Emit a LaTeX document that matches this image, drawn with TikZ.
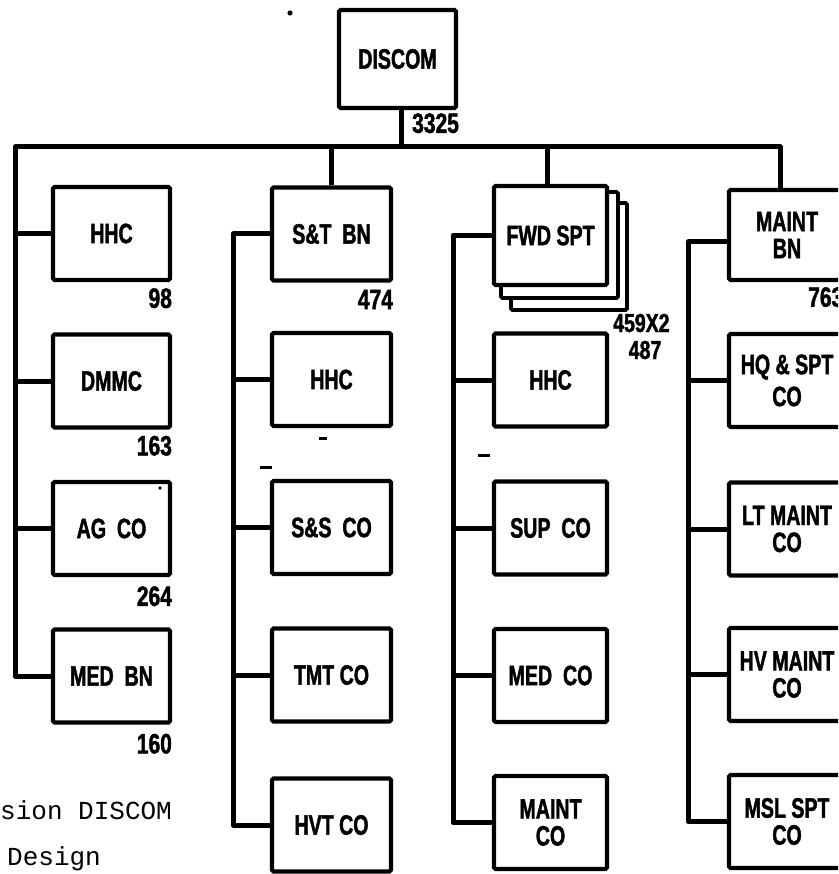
\documentclass[tikz,border=0pt]{standalone}
\usepackage{fontspec}
\newfontfamily\lab[FakeStretch=0.7,FakeBold=1.5]{Liberation Sans}
\newfontfamily\numf[FakeStretch=0.75,FakeBold=1.5]{Liberation Sans}
\newfontfamily\typew{Liberation Mono}
\tikzset{
  box/.style={draw, line width=4.2pt, rounded corners=1.5pt, fill=white, align=center,
    inner sep=0pt, minimum height=93pt,
    font=\lab\bfseries\fontsize{28}{27}\selectfont},
  colA/.style={box, minimum width=117pt},
  colB/.style={box, minimum width=119pt},
  colC/.style={box, minimum width=113pt},
  colD/.style={box, minimum width=116pt},
  wire/.style={line width=5pt, line join=round},
  num/.style={font=\numf\bfseries\fontsize{28}{28}\selectfont, inner sep=0pt, anchor=north east},
  smallnum/.style={font=\numf\bfseries\fontsize{26}{26}\selectfont, inner sep=0pt},
  shadowbox/.style={draw, line width=3.6pt, rounded corners=1.5pt, fill=white},
  speck/.style={fill=black}
}
\begin{document}
\begin{tikzpicture}[x=1pt, y=-1pt]
\useasboundingbox (0,0) rectangle (838,874);
\clip (0,0) rectangle (838,874);

% coordinates for the vertical rails
\coordinate (busL) at (15,147);
\coordinate (c2) at (233,0);
\coordinate (c3) at (453,0);
\coordinate (c4) at (688,0);

% top
\node[box, minimum width=117pt, minimum height=98pt] (discom) at (397.5,59) {DISCOM};

% column 1
\node[colA] (hhcA) at (111.5,233.5) {HHC};
\node[colA] (dmmc) at (111.5,381) {DMMC};
\node[colA] (agco) at (111.5,528.5) {AG\ \ CO};
\node[colA] (medbn) at (111.5,676) {MED\ \ BN};

% column 2
\node[colB] (stbn) at (331.5,234) {S\&T\ \ BN};
\node[colB] (hhcB) at (331.5,379.5) {HHC};
\node[colB] (ssco) at (331.5,527.5) {S\&S\ \ CO};
\node[colB] (tmtco) at (331.5,675) {TMT CO};
\node[colB] (hvtco) at (331.5,825) {HVT CO};

% column 3 (stacked FWD SPT)
\draw[shadowbox] (511,203) rectangle (627,310);
\draw[shadowbox] (501,192) rectangle (618,298);
\node[colC, minimum height=99pt] (fwd) at (550.5,235.5) {FWD SPT};
\node[colC] (hhcC) at (550.5,380) {HHC};
\node[colC] (supco) at (550.5,528) {SUP\ \ CO};
\node[colC] (medco) at (550.5,675.5) {MED\ \ CO};
\node[colC] (maintco) at (550.5,822.5) {MAINT\\CO};

% column 4
\node[colD, minimum height=90pt] (maintbn) at (787,235) {MAINT\\BN};
\node[colD] (hqspt) at (787,380.5) {HQ \& SPT\\[5pt]CO};
\node[colD] (ltmaint) at (787,529) {LT MAINT\\CO};
\node[colD] (hvmaint) at (787,674.5) {HV MAINT\\CO};
\node[colD] (mslspt) at (787,821.5) {MSL SPT\\CO};

% bus and column 1 rail
\draw[wire] ([xshift=-7pt]maintbn.north) |- (busL) |- (medbn.west);
\draw[wire] ([xshift=4pt]discom.south) -- ([xshift=4pt]discom.south |- busL);
\draw[wire] (stbn.north) -- (stbn.north |- busL);
\draw[wire] ([xshift=-3pt]fwd.north) -- ([xshift=-3pt]fwd.north |- busL);
\foreach \n in {hhcA,dmmc,agco} \draw[wire] (\n.west) -- (\n.west -| busL);

% column 2 rail
\draw[wire] (stbn.west) -| (c2 |- hvtco.west) -- (hvtco.west);
\foreach \n in {hhcB,ssco,tmtco} \draw[wire] (\n.west) -- (\n.west -| c2);

% column 3 rail
\draw[wire] (fwd.west) -| (c3 |- maintco.west) -- (maintco.west);
\foreach \n in {hhcC,supco,medco} \draw[wire] (\n.west) -- (\n.west -| c3);

% column 4 rail
\draw[wire] ([yshift=-7pt]maintbn.west) -| (c4 |- mslspt.west) -- (mslspt.west);
\foreach \n in {hqspt,ltmaint,hvmaint} \draw[wire] (\n.west) -- (\n.west -| c4);

% strengths
\node[num] (n3325) at ([xshift=1pt,yshift=-3pt]discom.south east) {3325};
\node[num] (n98) at ([yshift=-6pt]hhcA.south east) {98};
\node[num] (n163) at ([yshift=-6pt]dmmc.south east) {163};
\node[num] (n264) at ([yshift=-9pt]agco.south east) {264};
\node[num] (n160) at ([yshift=-9pt]medbn.south east) {160};
\node[num] (n474) at ([yshift=-7pt]stbn.south east) {474};
\node[smallnum, anchor=base west] (n459) at (613,332) {459X2};
\node[smallnum, anchor=base] (n487) at (645,359) {487};
\node[num, anchor=north west] (n763) at (808,287) {763};

% caption fragment
\node[font=\typew\fontsize{26}{26}\selectfont, inner sep=0pt, anchor=base west] (cap1) at (0,819) {sion DISCOM};
\node[font=\typew\fontsize{26}{26}\selectfont, inner sep=0pt, anchor=base west] (cap2) at (7,865) {Design};

% specks in the scan
\fill[speck] (290,13) circle (2.6pt);
\fill[speck] (160,488) circle (1.8pt);
\fill[speck] (260,466) rectangle (272,469);
\fill[speck] (319,437) rectangle (327,439.5);
\fill[speck] (478,454) rectangle (490,456.5);
\end{tikzpicture}
\end{document}
